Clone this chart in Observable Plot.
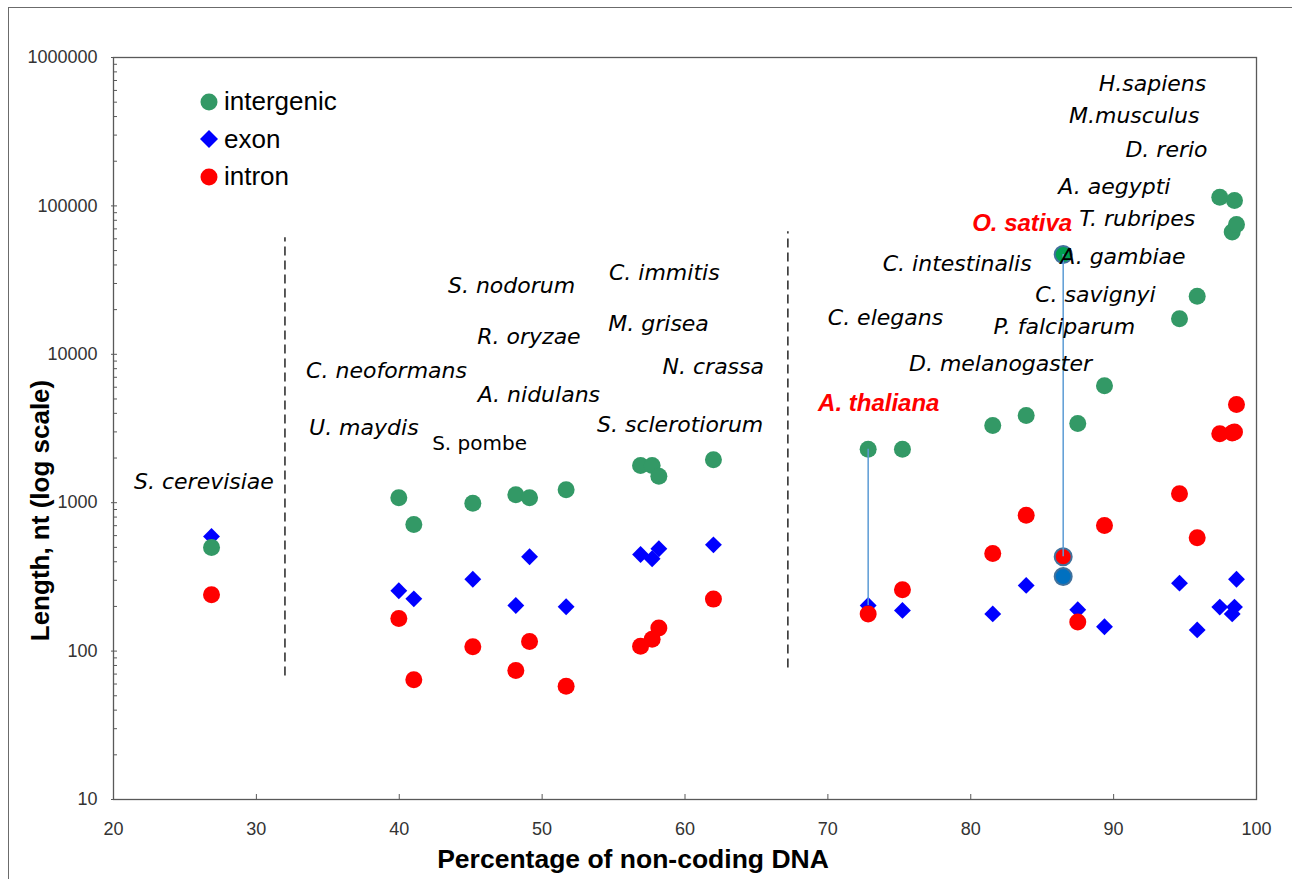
<!DOCTYPE html>
<html><head><meta charset="utf-8">
<script src="https://cdn.jsdelivr.net/npm/d3@7"></script>
<script src="https://cdn.jsdelivr.net/npm/@observablehq/plot@0.6"></script>
<style>
body{margin:0;background:#fff;}
#wrap{position:relative;width:1292px;height:879px;overflow:hidden;background:#fff;}
#border{position:absolute;left:8px;top:7px;width:1400px;height:1000px;border:1.5px solid #6b6b6b;pointer-events:none;}
#legend{position:absolute;left:200px;top:83px;font-family:"Liberation Sans",Arial,sans-serif;font-size:26px;color:#000;}
.row{display:flex;align-items:center;height:37.5px;}
.row svg{width:18px;height:18px;margin-right:6px;flex:none;}
</style></head><body>
<div id="wrap"><div id="chart"></div><div id="legend"></div><div id="border"></div></div>
<script>
// ---- data ----
const species = ["S. cerevisiae","C. neoformans","U. maydis","S. pombe","A. fumigatus","A. nidulans","R. oryzae",
  "S. nodorum","M. grisea","C. immitis","N. crassa","A. thaliana","C. elegans","P. falciparum","D. melanogaster",
  "O. sativa","C. intestinalis","A. gambiae","C. savignyi","A. aegypti","T. rubripes","D. rerio","M.musculus","H.sapiens"];
const pct = [26.86, 39.97, 41.02, 45.15, 48.16, 49.12, 51.68, 56.89, 57.70, 58.17, 61.99, 72.82, 75.22,
  81.54, 83.88, 86.47, 87.49, 89.36, 94.61, 95.85, 97.43, 98.30, 98.46, 98.60];
const intergenic = [499, 1080, 713, 993, 1130, 1080, 1222, 1781, 1781, 1509, 1946, 2294, 2294,
  3313, 3870, 47000, 3420, 6133, 17340, 24650, 114500, 66600, 108800, 75000];
const exon = [592, 255, 225, 305, 203, 432, 199, 448, 419, 489, 520, 203, 188,
  178, 277, 318, 190, 146, 287, 139, 198, 178, 198, 305];
const intron = [240, 166, 64, 107, 74, 116, 58, 108, 120, 143, 224, 178, 259,
  455, 824, 432, 157, 702, 1148, 580, 2913, 2950, 3000, 4590];

const labelText = ["S. cerevisiae","C. neoformans","U. maydis","S. pombe","A. nidulans","R. oryzae","S. nodorum",
  "C. immitis","M. grisea","N. crassa","S. sclerotiorum","A. thaliana","C. elegans","D. melanogaster","P. falciparum",
  "C. intestinalis","C. savignyi","A. gambiae","T. rubripes","O. sativa","A. aegypti","D. rerio","M.musculus","H.sapiens"];
const labelX = [26.33, 39.11, 37.52, 45.62, 49.77, 49.08, 47.86, 58.55, 58.15, 61.98, 59.66, 73.56, 74.03, 82.08,
  86.55, 79.05, 88.73, 90.65, 91.65, 83.60, 90.05, 93.70, 91.44, 92.72];
const labelY = [1390, 7780, 3213, 2506, 5358, 13190, 29100, 35560, 16130, 8270, 3365, 4660, 17700, 8670,
  15170, 40900, 25300, 45600, 82200, 76100, 135200, 239900, 406600, 668000];

const highlighted = ["A. thaliana", "O. sativa"];
const dividerX = [32, 67.2];
const dividerTop = [61000, 67000];
const dividerBottom = [68, 77];

const xTicks = [20, 30, 40, 50, 60, 70, 80, 90, 100];
const yTicks = [10, 100, 1000, 10000, 100000, 1000000];
const seriesNames = ["intergenic", "exon", "intron"];

// ---- build ----
const GREEN = "#339966", BLUE = "#0000ff", RED = "#ff0000";
const rows = species.map((s, i) => ({species: s, pct: pct[i], intergenic: intergenic[i], exon: exon[i], intron: intron[i]}));
const normal = rows.filter(r => r.species !== "O. sativa");
const special = rows.filter(r => r.species === "O. sativa");
const linked = rows.filter(r => highlighted.includes(r.species));
const labels = labelText.map((t, i) => ({text: t, x: labelX[i], y: labelY[i]}));
const dividers = dividerX.map((x, i) => ({x, y1: dividerBottom[i], y2: dividerTop[i]}));
const minorTicks = yTicks.slice(0, -1).flatMap(t => d3.range(2, 10).map(k => k * t));

const labelFont = "'DejaVu Sans', Verdana, sans-serif";
const axisFont = "'Liberation Sans', Arial, sans-serif";

const chart = Plot.plot({
  width: 1292, height: 879,
  marginLeft: 113, marginRight: 36, marginTop: 57, marginBottom: 80,
  style: {fontFamily: axisFont, fontSize: "18px", color: "#333", background: "transparent"},
  x: {domain: [20, 100]},
  y: {type: "log", domain: [10, 1000000]},
  marks: [
    Plot.frame({stroke: "#595959", strokeWidth: 1.3}),
    Plot.ruleX(dividers, {x: "x", y1: "y1", y2: "y2", stroke: "#333", strokeWidth: 1.6, strokeDasharray: "9,5"}),
    Plot.dot(normal, {x: "pct", y: "exon", symbol: "diamond2", r: 7.6, fill: BLUE}),
    Plot.dot(normal, {x: "pct", y: "intergenic", r: 8.5, fill: GREEN}),
    Plot.dot(normal, {x: "pct", y: "intron", r: 8.5, fill: RED}),
    Plot.dot(special, {x: "pct", y: "exon", r: 8.5, fill: "#0070c0", stroke: "#41719c", strokeWidth: 2}),
    Plot.dot(special, {x: "pct", y: "intergenic", r: 8.5, fill: "#00a050", stroke: "#41719c", strokeWidth: 2}),
    Plot.dot(special, {x: "pct", y: "intron", r: 8.5, fill: RED, stroke: "#41719c", strokeWidth: 2}),
    Plot.ruleX(linked, {x: "pct", y1: d => Math.max(d.exon, d.intron), y2: "intergenic", stroke: "#5b9bd5", strokeWidth: 1.5}),
    Plot.text(labels.filter(d => !highlighted.includes(d.text) && d.text !== "S. pombe"),
      {x: "x", y: "y", text: "text", fontFamily: labelFont, fontStyle: "italic", fontSize: 22, fill: "#000"}),
    Plot.text(labels.filter(d => d.text === "S. pombe"),
      {x: "x", y: "y", text: "text", fontFamily: labelFont, fontSize: 20, fill: "#000"}),
    Plot.text(labels.filter(d => highlighted.includes(d.text)),
      {x: "x", y: "y", text: "text", fontFamily: axisFont, fontStyle: "italic", fontWeight: "bold", fontSize: 24, fill: RED}),
    Plot.axisX({ticks: xTicks, tickSize: 0, tickPadding: 23, tickFormat: d => String(d), fontSize: 18, fill: "#333"}),
    Plot.axisX({ticks: xTicks, tickSize: 5, dy: -5, tickFormat: () => "", stroke: "#595959"}),
    Plot.axisY({ticks: yTicks, tickSize: 0, tickPadding: 16, tickFormat: d => String(d), fontSize: 18, fill: "#333"}),
    Plot.axisY({ticks: yTicks, tickSize: 6, dx: 4, tickFormat: () => "", stroke: "#595959"}),
    Plot.axisY({ticks: minorTicks, tickSize: 4, dx: 4, tickFormat: () => "", stroke: "#595959"}),
    Plot.text(["Percentage of non-coding DNA"], {frameAnchor: "bottom", textAnchor: "middle", lineAnchor: "middle",
      dx: -52, dy: 60, fontSize: 26.5, fontWeight: "bold", fill: "#000"}),
    Plot.text(["Length, nt (log scale)"], {frameAnchor: "left", textAnchor: "middle", lineAnchor: "middle",
      dx: -73, dy: 82, rotate: -90, fontSize: 26, fontWeight: "bold", fill: "#000"})
  ]
});
document.getElementById("chart").appendChild(chart);

// legend
const legendColors = {intergenic: GREEN, exon: BLUE, intron: RED};
const legend = document.getElementById("legend");
for (const name of seriesNames) {
  const row = document.createElement("div");
  row.className = "row";
  const shape = name === "exon"
    ? `<polygon points="9,0 18,9 9,18 0,9" fill="${legendColors[name]}"/>`
    : `<circle cx="9" cy="9" r="8.5" fill="${legendColors[name]}"/>`;
  row.innerHTML = `<svg viewBox="0 0 18 18">${shape}</svg><span>${name}</span>`;
  legend.appendChild(row);
}
</script>
</body></html>
